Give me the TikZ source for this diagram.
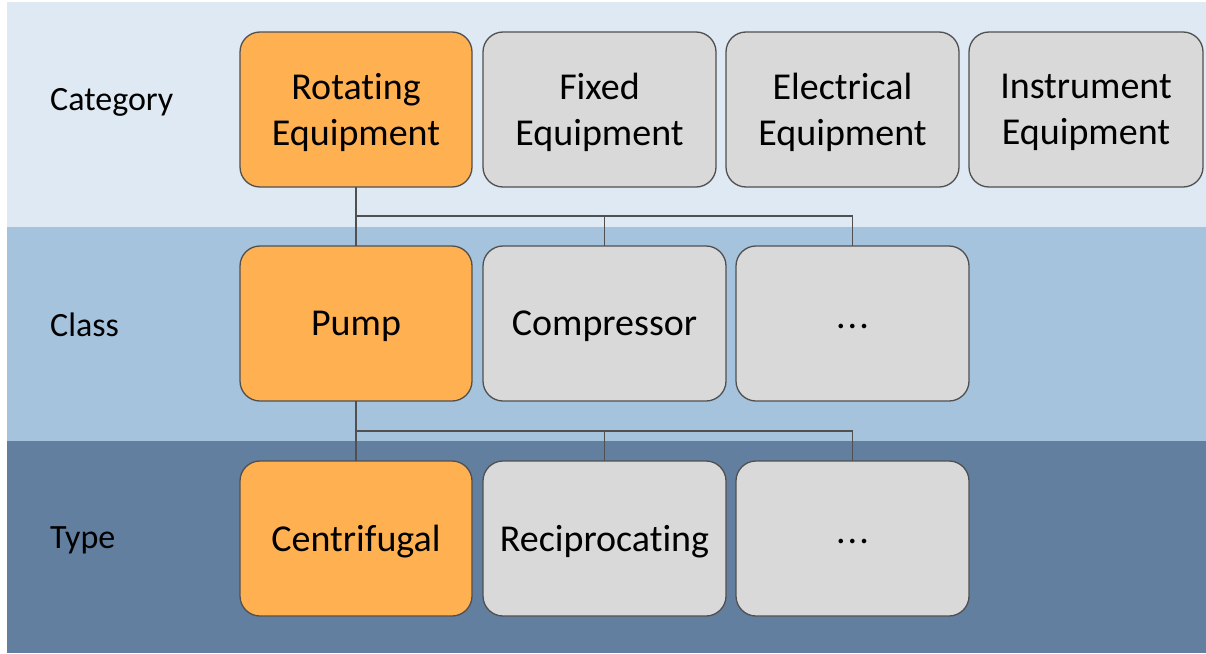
\documentclass[tikz,border=0pt]{standalone}
\usepackage{fontspec}
\setmainfont[Ligatures={NoCommon,NoContextual},RawFeature={-liga;-clig;-calt}]{Carlito}
\definecolor{bandA}{HTML}{DFE9F3}
\definecolor{bandB}{HTML}{A6C3DE}
\definecolor{bandC}{HTML}{627F9F}
\definecolor{orangefill}{HTML}{FFB151}
\definecolor{grayfill}{HTML}{D9D9D9}
\definecolor{edge}{HTML}{505050}
\begin{document}
\begin{tikzpicture}[x=1pt,y=-1pt,
  boxtext/.style={inner sep=0pt, align=center, font=\fontsize{38}{46}\selectfont, text=black, yshift=-3pt},
  box/.style={draw=edge, line width=1.3pt, rounded corners=20pt, minimum height=155pt,
    inner sep=0pt, outer sep=0pt},
  hot/.style={box, fill=orangefill},
  cold/.style={box, fill=grayfill},
  rowlabel/.style={anchor=west, inner sep=0pt, font=\fontsize{34}{40}\selectfont, text=black},
  link/.style={draw=edge, line width=1.3pt}
]
\useasboundingbox (0,0) rectangle (1206,653);
\fill[white] (0,0) rectangle (1206,653);
\fill[bandA] (7,2) rectangle (1206,227);
\fill[bandB] (7,227) rectangle (1206,441);
\fill[bandC] (7,441) rectangle (1206,653);

\node[rowlabel] (lcat) at (50,102) {Category};
\node[rowlabel] (lcls) at (50,325) {Class};
\node[rowlabel] (ltyp) at (50,540) {Type};

\node[hot, minimum width=232pt, label={[boxtext]center:{Rotating\\Equipment}}] (rot) at (356,109.5) {};
\node[cold, minimum width=233pt, label={[boxtext]center:{Fixed\\Equipment}}] (fix) at (599.5,109.5) {};
\node[cold, minimum width=233pt, label={[boxtext]center:{Electrical\\Equipment}}] (ele) at (842.5,109.5) {};
\node[cold, minimum width=234pt, label={[boxtext]center:{Instrument\\Equipment}}] (ins) at (1086,109.5) {};

\node[hot, minimum width=232pt, label={[boxtext]center:Pump}] (pump) at (356,323.5) {};
\node[cold, minimum width=243pt, label={[boxtext]center:Compressor}] (comp) at (604.5,323.5) {};
\node[cold, minimum width=233pt, label={[boxtext]center:{.\kern2pt.\kern2pt.}}] (cdots) at (852.5,323.5) {};

\node[hot, minimum width=232pt, label={[boxtext]center:Centrifugal}] (cen) at (356,538.5) {};
\node[cold, minimum width=243pt, label={[boxtext]center:Reciprocating}] (rec) at (604.5,538.5) {};
\node[cold, minimum width=233pt, label={[boxtext]center:{.\kern2pt.\kern2pt.}}] (tdots) at (852.5,538.5) {};

\coordinate (j1) at (356,216);
\coordinate (j2) at (356,431);

\draw[link] (rot.south) -- (pump.north);
\draw[link] (j1) -| (comp.north);
\draw[link] (j1) -| (cdots.north);
\draw[link] (pump.south) -- (cen.north);
\draw[link] (j2) -| (rec.north);
\draw[link] (j2) -| (tdots.north);
\end{tikzpicture}
\end{document}
